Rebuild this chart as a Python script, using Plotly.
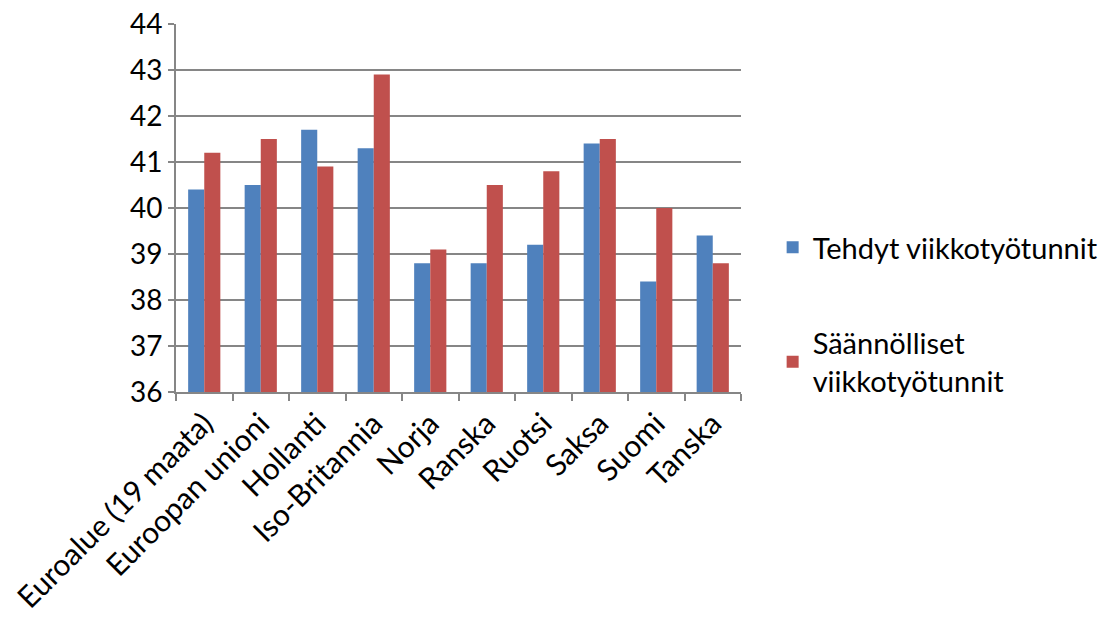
import plotly.graph_objects as go

categories = ["Euroalue (19 maata)", "Euroopan unioni", "Hollanti", "Iso-Britannia",
              "Norja", "Ranska", "Ruotsi", "Saksa", "Suomi", "Tanska"]
tehdyt = [40.4, 40.5, 41.7, 41.3, 38.8, 38.8, 39.2, 41.4, 38.4, 39.4]
saannolliset = [41.2, 41.5, 40.9, 42.9, 39.1, 40.5, 40.8, 41.5, 40.0, 38.8]
y_ticks = [36, 37, 38, 39, 40, 41, 42, 43, 44]

FONT = "Lato, 'Open Sans', sans-serif"

fig = go.Figure()
fig.add_trace(go.Bar(x=categories, y=tehdyt, name="Tehdyt viikkotyötunnit",
                     marker=dict(color="#4F81BD", line=dict(width=0)),
                     legendgroup="a"))
fig.add_trace(go.Bar(x=categories, y=saannolliset, name="Säännölliset<br>viikkotyötunnit",
                     marker=dict(color="#C0504D", line=dict(width=0)),
                     legendgroup="b"))

fig.update_layout(
    width=1117, height=621,
    margin=dict(l=168, r=384, t=16, b=237),
    paper_bgcolor="white", plot_bgcolor="white",
    barmode="group", bargap=0.43, bargroupgap=0,
    font=dict(family=FONT, size=28, color="black"),
    legend=dict(x=1.056, y=0.211, xanchor="left", yanchor="middle",
                font=dict(size=29), tracegroupgap=55, itemwidth=30,
                bgcolor="rgba(0,0,0,0)"),
    showlegend=True,
)
fig.update_yaxes(range=[36, 44], tickvals=y_ticks, showgrid=True,
                 gridcolor="#868686", gridwidth=2,
                 showline=True, linecolor="#868686", linewidth=2,
                 ticks="outside", ticklen=6, tickcolor="#868686", tickwidth=2,
                 tickfont=dict(size=28), zeroline=False, automargin=False,
                 ticklabeloverflow="allow")
fig.update_xaxes(tickangle=-45, showline=True, linecolor="#868686", linewidth=2,
                 ticks="outside", tickson="boundaries", ticklen=7,
                 tickcolor="#868686", tickwidth=2, tickfont=dict(size=30),
                 showgrid=False, automargin=False, ticklabeloverflow="allow")

fig.write_html("out.html")
